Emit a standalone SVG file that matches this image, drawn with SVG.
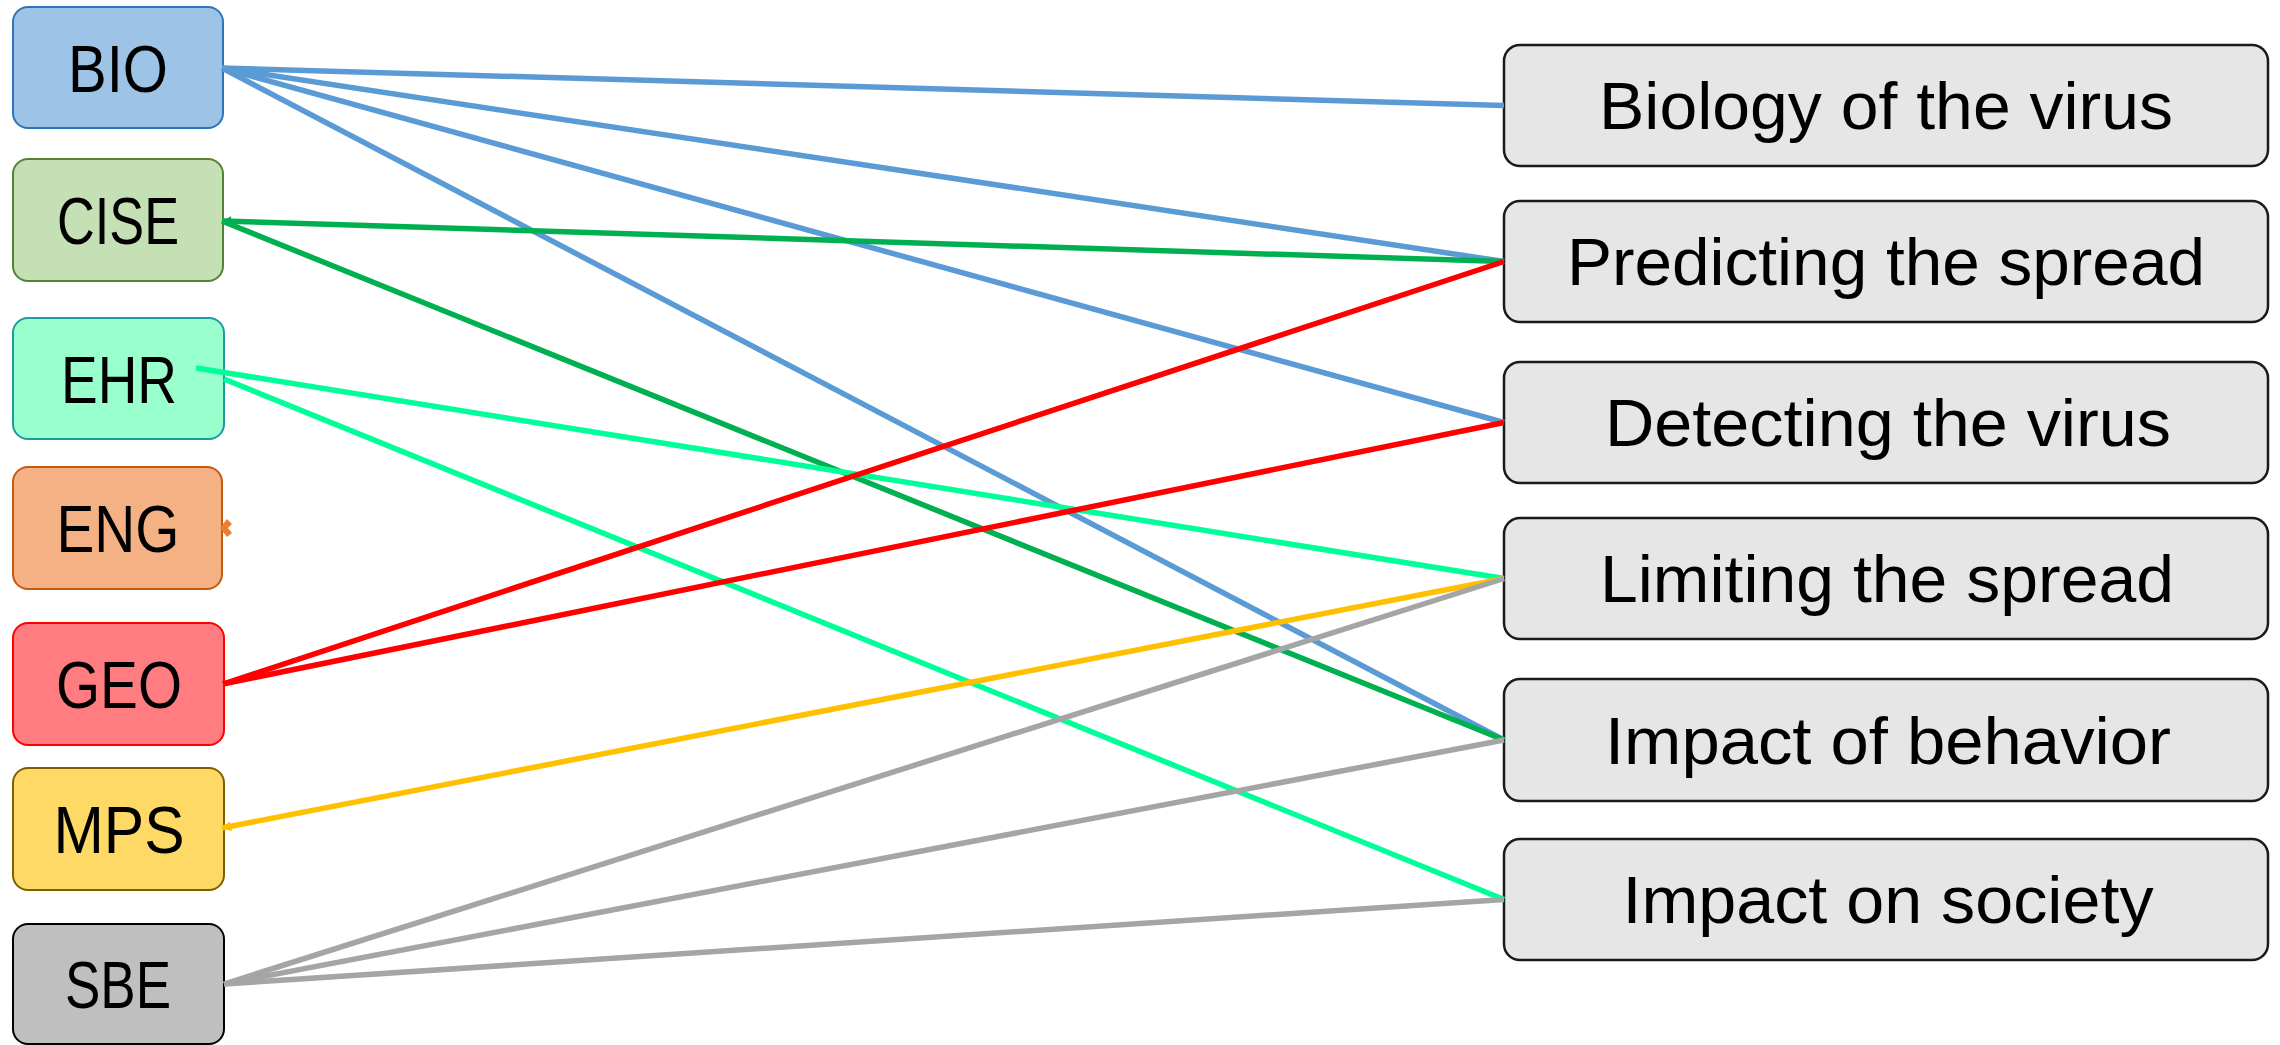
<svg xmlns="http://www.w3.org/2000/svg" width="2280" height="1045" viewBox="0 0 2280 1045">
  <style>
    .lbl { font-family: "Liberation Sans", Arial, sans-serif; font-size: 67px; fill: #000; text-anchor: middle; }
    .dept { stroke-width: 2; }
    .topic { fill: #E6E6E6; stroke: #1a1a1a; stroke-width: 2.5; }
    .link { fill: none; stroke-width: 5.5; stroke-linecap: butt; }
    .bio { stroke: #5B9BD5; }
    .cise { stroke: #00B050; }
    .ehr { stroke: #00FF99; }
    .geo { stroke: #FF0000; }
    .mps { stroke: #FFC000; }
    .sbe { stroke: #A5A5A5; }
  </style>
  <defs>
    <marker id="tip-green" markerUnits="userSpaceOnUse" markerWidth="12" markerHeight="12" refX="0" refY="0" viewBox="-1 -6 11 12" orient="auto">
      <path d="M0,0 L9,-5 L9,5 Z" fill="#00B050"/>
    </marker>
    <marker id="tip-yellow" markerUnits="userSpaceOnUse" markerWidth="12" markerHeight="12" refX="0" refY="0" viewBox="-1 -6 11 12" orient="auto">
      <path d="M0,0 L9,-5 L9,5 Z" fill="#FFC000"/>
    </marker>
  </defs>
  <rect width="2280" height="1045" fill="#fff"/>

  <!-- directorates (left column) -->
  <g id="node-bio">
    <rect class="dept" x="13" y="7" width="210" height="121" rx="15" fill="#9DC3E6" stroke="#2E75B6"/>
    <text class="lbl" x="118" y="92" textLength="100" lengthAdjust="spacingAndGlyphs">BIO</text>
  </g>
  <g id="node-cise">
    <rect class="dept" x="13" y="159" width="210" height="122" rx="15" fill="#C5E0B4" stroke="#548235"/>
    <text class="lbl" x="118" y="244" textLength="122" lengthAdjust="spacingAndGlyphs">CISE</text>
  </g>
  <g id="node-ehr">
    <rect class="dept" x="13" y="318" width="211" height="121" rx="15" fill="#99FFCC" stroke="#1F9AA0"/>
    <text class="lbl" x="119" y="403" textLength="116" lengthAdjust="spacingAndGlyphs">EHR</text>
  </g>
  <g id="node-eng">
    <rect class="dept" x="13" y="467" width="209" height="122" rx="15" fill="#F4B183" stroke="#C55A11"/>
    <text class="lbl" x="118" y="552" textLength="123" lengthAdjust="spacingAndGlyphs">ENG</text>
    <polygon points="220,528 227,519 232,524 228,528 232,533 227,537" fill="#ED7D31"/>
  </g>
  <g id="node-geo">
    <rect class="dept" x="13" y="623" width="211" height="122" rx="15" fill="#FF7C80" stroke="#FF0000"/>
    <text class="lbl" x="119" y="708" textLength="126" lengthAdjust="spacingAndGlyphs">GEO</text>
  </g>
  <g id="node-mps">
    <rect class="dept" x="13" y="768" width="211" height="122" rx="15" fill="#FFD966" stroke="#7F6000"/>
    <text class="lbl" x="119" y="853" textLength="131" lengthAdjust="spacingAndGlyphs">MPS</text>
  </g>
  <g id="node-sbe">
    <rect class="dept" x="13" y="924" width="211" height="120" rx="15" fill="#BFBFBF" stroke="#000"/>
    <text class="lbl" x="118" y="1008" textLength="106" lengthAdjust="spacingAndGlyphs">SBE</text>
  </g>

  <!-- research topics (right column) -->
  <g id="node-biology">
    <rect class="topic" x="1504" y="45" width="764" height="121" rx="16"/>
    <text class="lbl" x="1886" y="129" textLength="574" lengthAdjust="spacingAndGlyphs">Biology of the virus</text>
  </g>
  <g id="node-predicting">
    <rect class="topic" x="1504" y="201" width="764" height="121" rx="16"/>
    <text class="lbl" x="1886" y="285" textLength="638" lengthAdjust="spacingAndGlyphs">Predicting the spread</text>
  </g>
  <g id="node-detecting">
    <rect class="topic" x="1504" y="362" width="764" height="121" rx="16"/>
    <text class="lbl" x="1888" y="446" textLength="566" lengthAdjust="spacingAndGlyphs">Detecting the virus</text>
  </g>
  <g id="node-limiting">
    <rect class="topic" x="1504" y="518" width="764" height="121" rx="16"/>
    <text class="lbl" x="1887" y="602" textLength="574" lengthAdjust="spacingAndGlyphs">Limiting the spread</text>
  </g>
  <g id="node-behavior">
    <rect class="topic" x="1504" y="679" width="764" height="122" rx="16"/>
    <text class="lbl" x="1888" y="764" textLength="566" lengthAdjust="spacingAndGlyphs">Impact of behavior</text>
  </g>
  <g id="node-society">
    <rect class="topic" x="1504" y="839" width="764" height="121" rx="16"/>
    <text class="lbl" x="1888" y="923" textLength="531" lengthAdjust="spacingAndGlyphs">Impact on society</text>
  </g>

  <!-- connectors -->
  <g id="connectors">
    <line class="link bio" x1="222" y1="68" x2="1504" y2="105.5"/>
    <line class="link bio" x1="222" y1="68" x2="1504" y2="261.5"/>
    <line class="link bio" x1="222" y1="68" x2="1504" y2="422.5"/>
    <line class="link bio" x1="222" y1="68" x2="1504" y2="740"/>
    <line class="link cise" x1="222" y1="221" x2="1504" y2="261.5" marker-start="url(#tip-green)"/>
    <line class="link cise" x1="222" y1="221" x2="1504" y2="740"/>
    <line class="link ehr" x1="196" y1="368" x2="1504" y2="578.5"/>
    <line class="link ehr" x1="224" y1="379" x2="1504" y2="899.5"/>
    <line class="link geo" x1="223" y1="684" x2="1504" y2="261.5"/>
    <line class="link geo" x1="223" y1="684" x2="1504" y2="422.5"/>
    <line class="link mps" x1="222" y1="828" x2="1504" y2="578.5" marker-start="url(#tip-yellow)"/>
    <line class="link sbe" x1="224" y1="984" x2="1504" y2="578.5"/>
    <line class="link sbe" x1="224" y1="984" x2="1504" y2="740"/>
    <line class="link sbe" x1="224" y1="984" x2="1504" y2="899.5"/>
  </g>
</svg>
